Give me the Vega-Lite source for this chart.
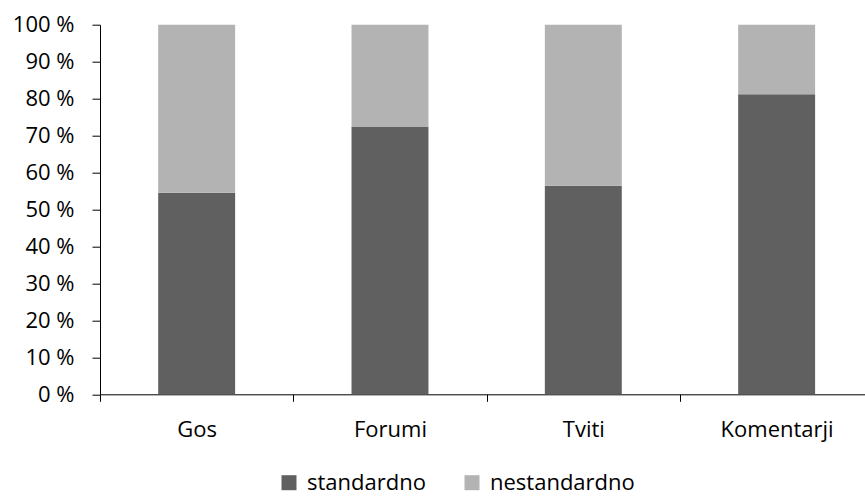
{
  "$schema": "https://vega.github.io/schema/vega-lite/v6.json",
  "width": 765,
  "height": 369.6,
  "autosize": {"type": "none"},
  "padding": {"left": 100, "top": 24.7, "right": 0, "bottom": 101.7},
  "background": "white",
  "config": {
    "font": "Open Sans",
    "view": {"stroke": null},
    "axis": {
      "labelFont": "Open Sans",
      "labelFontSize": 22,
      "labelColor": "#000000",
      "domainColor": "#000000",
      "domainWidth": 1,
      "tickColor": "#000000",
      "tickWidth": 1,
      "grid": false,
      "title": null
    },
    "legend": {
      "labelFont": "Open Sans",
      "labelFontSize": 22,
      "labelColor": "#000000"
    }
  },
  "data": {
    "values": [
      {"kanal": "Gos", "vrsta": "standardno", "delez": 54.5},
      {"kanal": "Gos", "vrsta": "nestandardno", "delez": 45.5},
      {"kanal": "Forumi", "vrsta": "standardno", "delez": 72.3},
      {"kanal": "Forumi", "vrsta": "nestandardno", "delez": 27.7},
      {"kanal": "Tviti", "vrsta": "standardno", "delez": 56.4},
      {"kanal": "Tviti", "vrsta": "nestandardno", "delez": 43.6},
      {"kanal": "Komentarji", "vrsta": "standardno", "delez": 81.2},
      {"kanal": "Komentarji", "vrsta": "nestandardno", "delez": 18.8}
    ]
  },
  "mark": {"type": "bar", "width": {"band": 0.398}},
  "encoding": {
    "x": {
      "field": "kanal",
      "type": "nominal",
      "sort": ["Gos", "Forumi", "Tviti", "Komentarji"],
      "scale": {"range": [0, 773.3], "paddingInner": 0, "paddingOuter": 0},
      "axis": {
        "labelAngle": 0,
        "tickBand": "extent",
        "tickSize": 7,
        "labelPadding": 18
      }
    },
    "y": {
      "field": "delez",
      "type": "quantitative",
      "stack": "zero",
      "scale": {"domain": [0, 100], "nice": false},
      "axis": {
        "values": [0, 10, 20, 30, 40, 50, 60, 70, 80, 90, 100],
        "labelExpr": "datum.value + ' %'",
        "tickSize": 8,
        "labelPadding": 18
      }
    },
    "color": {
      "field": "vrsta",
      "type": "nominal",
      "sort": ["standardno", "nestandardno"],
      "scale": {"domain": ["standardno", "nestandardno"], "range": ["#606060", "#b3b3b3"]},
      "legend": {
        "title": null,
        "orient": "none",
        "direction": "horizontal",
        "legendX": 178,
        "legendY": 447,
        "padding": 0,
        "symbolType": "square",
        "symbolSize": 225,
        "symbolStrokeWidth": 0,
        "labelOffset": 7,
        "columnPadding": 35
      }
    }
  }
}
